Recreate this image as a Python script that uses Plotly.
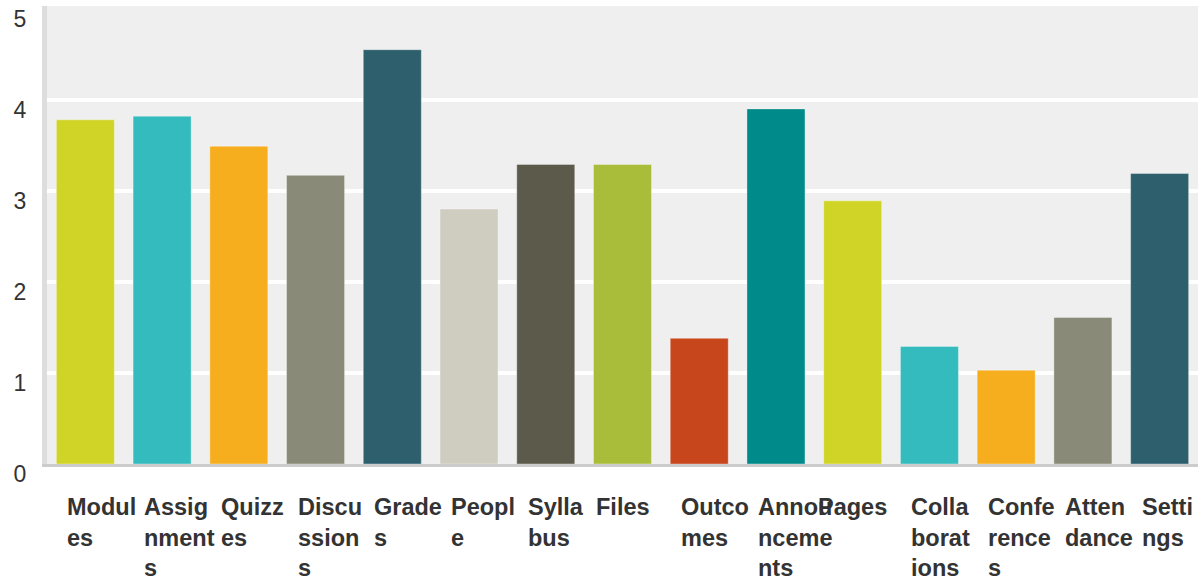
import plotly.graph_objects as go

categories = ["Modules", "Assignments", "Quizzes", "Discussions", "Grades", "People",
              "Syllabus", "Files", "Outcomes", "Announcements", "Pages",
              "Collaborations", "Conferences", "Attendance", "Settings"]
values = [3.78, 3.82, 3.49, 3.17, 4.55, 2.80, 3.29, 3.29, 1.38, 3.90, 2.89,
          1.29, 1.03, 1.61, 3.19]
colors = ["#cfd427", "#33bbbe", "#f6ae1f", "#8a8a79", "#2e5f6d", "#cfcdc0",
          "#5c5a4a", "#aabd3a", "#c8461c", "#008a89", "#cfd427", "#33bbbe",
          "#f6ae1f", "#8a8a79", "#2e5f6d"]
y_ticks = [0, 1, 2, 3, 4, 5]


def chunk(s, n=5):
    return [s[i:i + n] for i in range(0, len(s), n)]


fig = go.Figure()
fig.add_trace(go.Bar(
    x=categories, y=values,
    marker=dict(color=colors, line=dict(width=1, color="rgba(255,255,255,0.35)")),
    hoverinfo="x+y",
))

for cat in categories:
    parts = chunk(cat)
    multi = len(parts) > 1
    fig.add_annotation(
        x=cat, xref="x", y=0, yref="paper",
        text="<br>".join(parts),
        showarrow=False,
        xanchor="left" if multi else "center",
        align="left",
        xshift=-20 if multi else 0,
        yanchor="top", yshift=-28,
        font=dict(family="Liberation Sans, Arial, sans-serif", size=23.5,
                  color="#333333", weight="bold"),
    )

fig.update_layout(
    width=1202, height=577,
    margin=dict(l=47, r=4, t=6, b=113, autoexpand=False),
    paper_bgcolor="white",
    plot_bgcolor="#efefef",
    bargap=0.244,
    showlegend=False,
    font=dict(family="Liberation Sans, Arial, sans-serif", color="#333333"),
)
fig.update_xaxes(
    showticklabels=False, showgrid=False, zeroline=False, automargin=False,
    showline=True, linecolor="#cccccc", linewidth=3,
)
fig.update_yaxes(
    range=[0, 5.03], tickvals=y_ticks, showgrid=False, zeroline=False,
    automargin=False,
    showline=True, linecolor="#dddddd", linewidth=5,
    tickfont=dict(size=23, color="#333333"),
    ticks="", ticklabelshift=10, ticklabelstandoff=11,
    ticklabeloverflow="allow",
    minor=dict(tickvals=[1, 2, 3, 4], showgrid=True, gridcolor="white",
               gridwidth=4, ticks=""),
)

fig.write_html(
    "out.html",
    config={"displayModeBar": False},
    post_script="document.body.style.margin='0px';document.body.style.padding='0px';",
)
